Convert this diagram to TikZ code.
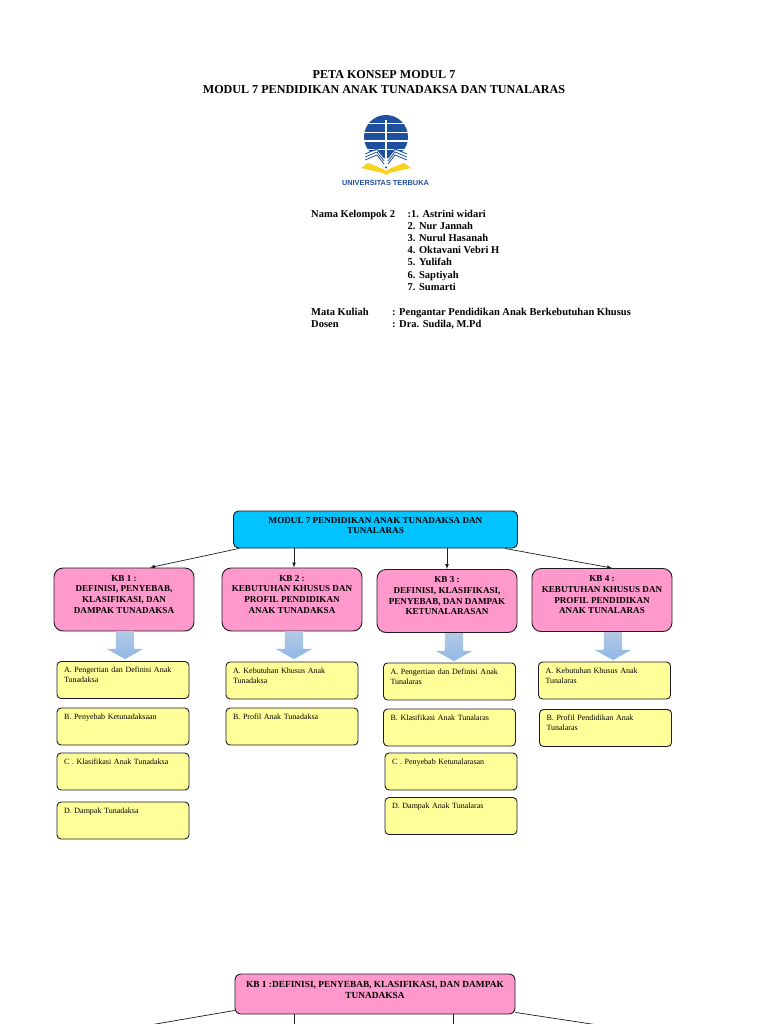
\documentclass[tikz,border=0pt]{standalone}
\usepackage{fontspec}
\setmainfont{Liberation Serif}
\newfontfamily\logofont{Liberation Sans}
\usetikzlibrary{shapes.arrows}

\definecolor{utblue}{HTML}{1F4F9F}
\definecolor{utyellow}{HTML}{F7D21E}
\definecolor{modulcyan}{HTML}{00C3FF}
\definecolor{kbpink}{HTML}{FF99CC}
\definecolor{itemyellow}{HTML}{FFFF99}
\definecolor{linedark}{HTML}{1C1C2A}
\definecolor{arrowtop}{HTML}{B4CAE4}
\definecolor{arrowbottom}{HTML}{8FB7E6}

\begin{document}
\begin{tikzpicture}[
    x=1pt, y=-1pt,
    heading/.style={font=\bfseries\fontsize{12.1}{14}\selectfont, inner sep=0pt},
    info/.style={anchor=base west, font=\bfseries\fontsize{10.5}{12}\selectfont, inner sep=0pt},
    modul/.style={rectangle, rounded corners=5pt, draw=linedark, line width=0.9pt, fill=modulcyan,
      minimum width=284pt, minimum height=37pt, inner sep=0pt, align=center,
      font=\bfseries\fontsize{9.1}{10.5}\selectfont},
    kb/.style={rectangle, rounded corners=9pt, draw=linedark, line width=0.9pt, fill=kbpink,
      minimum width=140pt, minimum height=63pt, inner sep=0pt, align=center,
      font=\bfseries\fontsize{9.1}{10.6}\selectfont},
    item/.style={rectangle, rounded corners=4pt, draw=linedark, line width=0.9pt, fill=itemyellow,
      minimum width=132pt, minimum height=37pt, text width=118pt, inner sep=0pt, align=left,
      font=\fontsize{8}{10}\selectfont},
    blockarrow/.style={single arrow, shape border rotate=270, minimum width=36pt, minimum height=28pt,
      single arrow head extend=9pt, single arrow tip angle=122, inner sep=9pt,
      draw=none, top color=arrowtop, bottom color=arrowbottom},
    link/.style={draw=linedark, line width=0.7pt, -latex},
    cutlink/.style={draw=linedark, line width=0.7pt}
]
  \useasboundingbox (0,0) rectangle (768,1024);
  \fill[white] (0,0) rectangle (768,1024);

  % Title and logo.
  \node[heading] (title1) at (384,75) {PETA KONSEP MODUL 7};
  \node[heading] (title2) at (384,90) {MODUL 7 PENDIDIKAN ANAK TUNADAKSA DAN TUNALARAS};

  \fill[utblue] (386,137) circle (22);
  \foreach \yy in {123.5,132.5,141,149.5} {
    \fill[white] (360,\yy-0.7) rectangle (412,\yy+0.7);
  }
  \fill[white] (385.2,120) rectangle (386.8,166);
  \fill[white] (360,154) -- (377,150) -- (386,160) -- (395,150) -- (412,154) -- (412,172) -- (360,172) -- cycle;
  \foreach \dy in {0,3,6} {
    \draw[utblue, line width=0.8pt] (365,160-\dy) -- (377,155-\dy) -- (384,164-\dy);
    \draw[utblue, line width=0.8pt] (407,160-\dy) -- (395,155-\dy) -- (388,164-\dy);
  }
  \fill[utyellow] (361,168) -- (368,163) -- (383,169) -- (386,171) -- (389,169) -- (404,163) -- (411,168)
    -- (389,173) -- (386,175) -- (383,173) -- cycle;
  \fill[utblue] (386,167.5) circle (1.2);
  \node[inner sep=0pt, text=utblue, font=\logofont\bfseries\fontsize{7.35}{8}\selectfont] (utname) at (385.5,182.5) {UNIVERSITAS TERBUKA};

  % Group members and course.
  \node[info] (kelompok) at (311,217.5) {Nama Kelompok 2};
  \foreach \yy/\txt in {217.5/{:1. Astrini widari}, 229.5/{2. Nur Jannah}, 241.5/{3. Nurul Hasanah},
      253.5/{4. Oktavani Vebri H}, 265.5/{5. Yulifah}, 278.5/{6. Saptiyah}, 290.5/{7. Sumarti}} {
    \node[info] (member\yy) at (407.5,\yy) {\txt};
  }
  \node[info] (matkul) at (311,315.5) {Mata Kuliah};
  \node[info] (matkultxt) at (392,315.5) {: Pengantar Pendidikan Anak Berkebutuhan Khusus};
  \node[info] (dosen) at (311,327.5) {Dosen};
  \node[info] (dosentxt) at (392,327.5) {: Dra. Sudila, M.Pd};

  % Concept map.
  \node[modul] (modul7) at (375.5,529.5) {MODUL 7 PENDIDIKAN ANAK TUNADAKSA DAN\\TUNALARAS\\[-2.5pt]~};

  \node[kb] (kb1) at (124,599.5) {KB 1 :\\DEFINISI, PENYEBAB,\\KLASIFIKASI, DAN\\DAMPAK TUNADAKSA\\~};
  \node[kb] (kb2) at (292,599.5) {KB 2 :\\KEBUTUHAN KHUSUS DAN\\PROFIL PENDIDIKAN\\ANAK TUNADAKSA\\~};
  \node[kb] (kb3) at (447,601) {KB 3 :\\DEFINISI, KLASIFIKASI,\\PENYEBAB, DAN DAMPAK\\KETUNALARASAN\\~};
  \node[kb] (kb4) at (602,600) {KB 4 :\\KEBUTUHAN KHUSUS DAN\\PROFIL PENDIDIKAN\\ANAK TUNALARAS\\~};

  \draw[link] ([xshift=6pt]modul7.south west) -- ([xshift=26pt]kb1.north);
  \draw[link] ([xshift=2pt]modul7.south west -| kb2.north) -- ([xshift=2pt]kb2.north);
  \draw[link] (modul7.south -| kb3.north) -- (kb3.north);
  \draw[link] ([xshift=-13pt]modul7.south east) -- ([xshift=10pt]kb4.north);

  \foreach \name/\xx/\yy in {arrow1/125/642.5, arrow2/294/642.5, arrow3/454/644.5, arrow4/613/643.5} {
    \node[blockarrow] (\name) at (\xx,\yy) {};
  }

  \foreach \name/\xx/\yy/\txt in {
      a1/123/680/{A. Pengertian dan Definisi Anak\\Tunadaksa\\~},
      a2/123/726.5/{B. Penyebab Ketunadaksaan\\~\\~},
      a3/123/771.5/{C . Klasifikasi Anak Tunadaksa\\~\\~},
      a4/123/820.5/{D. Dampak Tunadaksa\\~\\~},
      b1/292/680.5/{A. Kebutuhan Khusus Anak\\Tunadaksa\\~},
      b2/292/726.5/{B. Profil Anak Tunadaksa\\~\\~},
      c1/449.5/681.5/{A. Pengertian dan Definisi Anak\\Tunalaras\\~},
      c2/449.5/727.5/{B. Klasifikasi Anak Tunalaras\\~\\~},
      c3/451/771.5/{C . Penyebab Ketunalarasan\\~\\~},
      c4/451/816/{D. Dampak Anak Tunalaras\\~\\~},
      d1/604.5/680.5/{A. Kebutuhan Khusus Anak\\Tunalaras\\~},
      d2/605.5/728/{B. Profil Pendidikan Anak\\Tunalaras\\~}} {
    \node[item] (\name) at (\xx,\yy) {\txt};
  }

  % Next map, cut off by the page.
  \node[kb, minimum width=280pt, minimum height=40pt, rounded corners=6pt, font=\bfseries\fontsize{9.35}{10.6}\selectfont]
    (kb1detail) at (375,994) {KB 1 :DEFINISI, PENYEBAB, KLASIFIKASI, DAN DAMPAK\\TUNADAKSA\\[-2.5pt]~};
  \coordinate (cutleft) at (150,1025);
  \coordinate (cutright) at (598,1025);
  \coordinate (cutb) at (294,1025);
  \coordinate (cutc) at (453,1025);
  \draw[cutlink] ([yshift=4pt]kb1detail.south west) -- (cutleft);
  \draw[cutlink] ([yshift=2pt]kb1detail.south east) -- (cutright);
  \draw[cutlink] (kb1detail.south -| cutb) -- (cutb);
  \draw[cutlink] (kb1detail.south -| cutc) -- (cutc);
\end{tikzpicture}
\end{document}
